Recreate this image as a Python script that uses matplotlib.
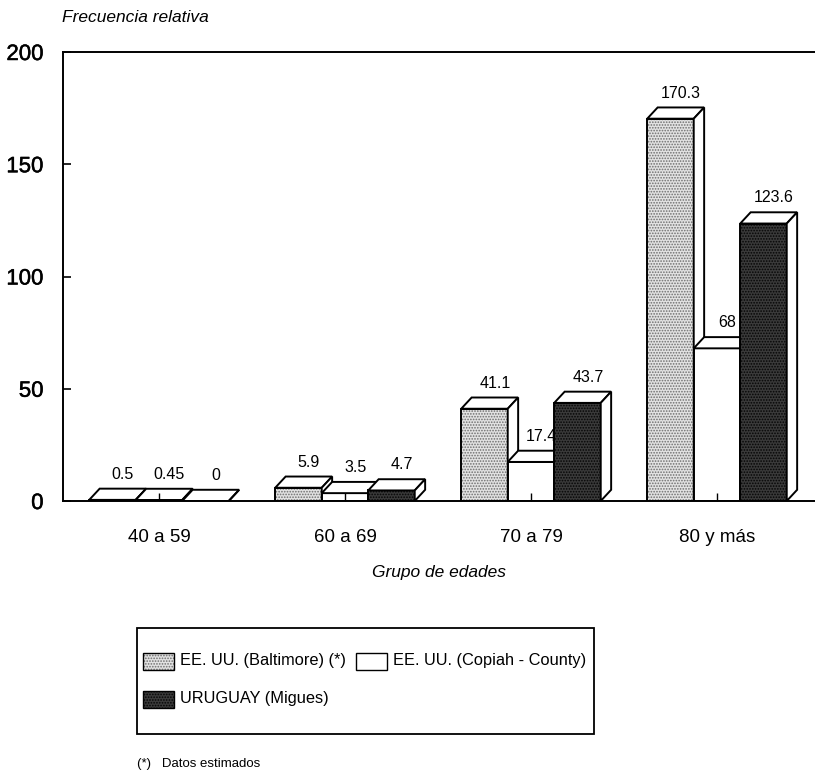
import matplotlib
matplotlib.use("Agg")
import matplotlib.pyplot as plt
from matplotlib.patches import Rectangle, Polygon
from matplotlib import font_manager
import matplotlib.patheffects as pe

# ---- data -------------------------------------------------------------
groups = ["40 a 59", "60 a 69", "70 a 79", "80 y más"]
baltimore = [0.5, 5.9, 41.1, 170.3]
copiah = [0.45, 3.5, 17.4, 68]
uruguay = [0, 4.7, 43.7, 123.6]
value_labels = [
    ["0.5", "5.9", "41.1", "170.3"],
    ["0.45", "3.5", "17.4", "68"],
    ["0", "4.7", "43.7", "123.6"],
]
series_names = ["EE. UU. (Baltimore) (*)", "EE. UU. (Copiah - County)", "URUGUAY (Migues)"]
yticks = [0, 50, 100, 150, 200]

# ---- fonts ------------------------------------------------------------
available = {f.name for f in font_manager.fontManager.ttflist}
base_font = "Liberation Sans" if "Liberation Sans" in available else "DejaVu Sans"
plt.rcParams["font.family"] = [base_font, "DejaVu Sans"]
plt.rcParams["hatch.linewidth"] = 0.8
semi_heavy = [pe.withStroke(linewidth=0.35, foreground="black")]

W, H = 815, 776
fig = plt.figure(figsize=(W / 100, H / 100), dpi=100)

ax_left, ax_right, ax_top, ax_bottom = 63, 815, 52, 501
ax = fig.add_axes([ax_left / W, 1 - ax_bottom / H,
                   (ax_right - ax_left) / W, (ax_bottom - ax_top) / H])

ax.set_ylim(0, 200)
ax.set_xlim(-0.516, 3.527)

bar_w = 0.25
depth_x = 0.056     # depth of the 3-D box along x (data units)
depth_y = 5.0       # depth of the 3-D box along y (data units)

styles = [
    dict(face="#e2e2e2", hatch="......", hcolor="#6e6e6e"),   # Baltimore
    dict(face="white", hatch=None, hcolor=None),               # Copiah
    dict(face="#3a3a3a", hatch="......", hcolor="#050505"),   # Uruguay
]
all_series = [baltimore, copiah, uruguay]


def draw_box(x0, h, style, z):
    x1 = x0 + bar_w
    # front face
    if style["hatch"]:
        ax.add_patch(Rectangle((x0, 0), bar_w, h, facecolor=style["face"],
                               edgecolor=style["hcolor"], hatch=style["hatch"],
                               linewidth=0, zorder=z))
    else:
        ax.add_patch(Rectangle((x0, 0), bar_w, h, facecolor=style["face"],
                               edgecolor="none", zorder=z))
    ax.add_patch(Rectangle((x0, 0), bar_w, h, facecolor="none",
                           edgecolor="black", linewidth=1.4, zorder=z + 0.001))
    # top face
    ax.add_patch(Polygon([(x0, h), (x0 + depth_x, h + depth_y),
                          (x1 + depth_x, h + depth_y), (x1, h)], closed=True,
                         facecolor="white", edgecolor="black", linewidth=1.4,
                         joinstyle="miter", zorder=z + 0.002))
    # right side face
    ax.add_patch(Polygon([(x1, 0), (x1, h), (x1 + depth_x, h + depth_y),
                          (x1 + depth_x, depth_y)], closed=True,
                         facecolor="white", edgecolor="black", linewidth=1.4,
                         joinstyle="miter", zorder=z + 0.002))


for g in range(len(groups)):
    for s in range(3):
        z = 1 + g * 0.1 + s * 0.02
        x0 = g + (s - 1.5) * bar_w
        h = all_series[s][g]
        draw_box(x0, h, styles[s], z)
        ax.annotate(value_labels[s][g], (x0 + bar_w / 2 + depth_x, h + depth_y),
                    xytext=(0, 5), textcoords="offset points",
                    ha="center", va="bottom", fontsize=11.5,
                    zorder=z + 0.003)

# ---- axes styling -----------------------------------------------------
ax.spines["right"].set_visible(False)
for side in ("left", "top", "bottom"):
    ax.spines[side].set_linewidth(1.4)

ax.set_yticks(yticks)
ax.set_yticklabels([str(v) for v in yticks], fontsize=16, path_effects=semi_heavy)
ax.tick_params(axis="y", direction="in", length=6, width=1.2, pad=14)
ax.set_xticks(range(len(groups)))
ax.set_xticklabels(groups, fontsize=13.5)
ax.tick_params(axis="x", direction="in", length=6, width=1.0, pad=20)

ax.set_xlabel("Grupo de edades", fontsize=12.5, style="italic", labelpad=14)
fig.text(62 / W, 1 - 18 / H, "Frecuencia relativa", fontsize=12.5,
         style="italic", ha="left", va="center")

# ---- legend -----------------------------------------------------------
bx0, bx1, by0, by1 = 137, 594, 628, 734
fig.add_artist(Rectangle((bx0 / W, 1 - by1 / H), (bx1 - bx0) / W, (by1 - by0) / H,
                         transform=fig.transFigure, facecolor="white",
                         edgecolor="black", linewidth=1.3))

legend_items = [
    (series_names[0], styles[0], 143, 661),
    (series_names[1], styles[1], 356, 661),
    (series_names[2], styles[2], 143, 699),
]
sw_w, sw_h = 31, 17
for name, st, lx, ly in legend_items:
    rect = (lx / W, 1 - (ly + sw_h / 2) / H)
    if st["hatch"]:
        fig.add_artist(Rectangle(rect, sw_w / W, sw_h / H, transform=fig.transFigure,
                                 facecolor=st["face"], edgecolor=st["hcolor"],
                                 hatch=st["hatch"], linewidth=0))
    fig.add_artist(Rectangle(rect, sw_w / W, sw_h / H, transform=fig.transFigure,
                             facecolor="none" if st["hatch"] else "white",
                             edgecolor="black", linewidth=1.0))
    fig.text((lx + sw_w + 6) / W, 1 - ly / H, name, fontsize=11.8,
             ha="left", va="center")

fig.text(137 / W, 1 - 764 / H, "(*)   Datos estimados", fontsize=9.5,
         ha="left", va="center")

fig.savefig("out.png", dpi=100)
